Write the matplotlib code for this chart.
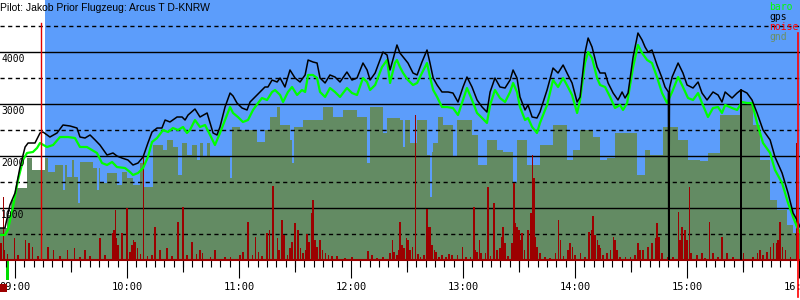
import matplotlib
matplotlib.use("Agg")
import matplotlib.pyplot as plt
import matplotlib.transforms as mtransforms
from matplotlib.patches import Rectangle
from matplotlib.ticker import MultipleLocator, FuncFormatter

# all times are minutes after 09:00, altitudes in metres
gps_t = [-8.0, -5.4, -2.7, 0.0, 2.7, 5.4, 7.0, 10.7, 13.4, 15.0, 18.7, 22.5, 25.7, 29.5, 33.2,
         34.8, 37.5, 40.2, 42.9, 45.5, 49.3, 52.5, 54.6, 57.3, 60.5, 63.2, 65.9, 68.6, 71.2,
         73.4, 76.1, 78.7, 80.4, 83.0, 86.8, 89.5, 91.1, 92.7, 96.4, 99.1, 102.9, 106.1, 108.2,
         109.8, 112.5, 115.2, 116.8, 118.9, 121.6, 124.3, 125.9, 128.6, 131.2, 133.9, 135.5,
         137.7, 140.4, 142.0, 144.6, 147.3, 150.0, 152.7, 155.4, 157.0, 159.6, 161.8, 163.4,
         166.1, 168.7, 171.4, 174.1, 177.8, 180.5, 183.2, 186.4, 188.6, 190.2, 192.9, 197.1,
         199.3, 200.9, 204.6, 206.2, 207.9, 210.5, 213.2, 215.4, 218.0, 220.7, 222.3, 224.0,
         226.1, 228.7, 232.0, 234.6, 237.3, 240.0, 242.1, 244.8, 247.5, 250.2, 252.8, 254.5,
         257.1, 259.8, 262.5, 265.2, 266.8, 268.9, 270.5, 273.2, 274.8, 277.0, 279.6, 281.2,
         285.0, 288.2, 290.9, 293.6, 296.2, 298.4, 301.1, 302.7, 305.3, 307.0, 309.1, 311.8,
         313.4, 316.1, 317.7, 320.4, 323.0, 325.2, 326.8, 328.4, 331.1, 333.7, 335.9, 337.5,
         339.1, 341.2, 343.9, 346.6, 348.2, 350.0, 350.2, 350.6, 352.0, 355.2, 357.8, 360.0,
         363.2, 365.9, 368.0, 370.7, 373.9, 376.6, 378.7, 380.4, 384.1, 386.8, 388.85, 388.9,
         388.95, 392.1, 394.8, 397.5, 400.7, 404.5, 407.1, 410.9, 414.1, 416.8, 418.9, 420.5]
gps_alt = [615, 615, 1058, 1288, 1788, 2173, 2250, 2250, 2442, 2461, 2365, 2442, 2596, 2577, 2538,
           2365, 2346, 2404, 2308, 2211, 2019, 2058, 2000, 1961, 1923, 1827, 1865, 1981, 2250,
           2461, 2538, 2538, 2692, 2654, 2750, 2750, 2692, 2788, 2904, 2750, 2827, 2442, 2404,
           2558, 2942, 3211, 3154, 3019, 2923, 2885, 3038, 3135, 3231, 3327, 3327,
           3461, 3423, 3500, 3327, 3654, 3500, 3423, 3558, 3846, 3808, 3788, 3500,
           3404, 3558, 3519, 3423, 3615, 3461, 3500, 3788, 3654, 3461, 3596, 4000,
           3942, 3654, 4135, 3981, 3904, 3788, 3596, 3558, 3808, 4038, 3788, 3500,
           3365, 3231, 3231, 3211, 3038, 3327, 3519, 3327, 3077, 2942, 2846, 3231,
           3500, 3327, 3308, 3461, 3654, 3500, 3135, 2885, 2981, 2750, 2731, 2846,
           3269, 3692, 3596, 3750, 3558, 3404, 3038, 3135, 3981, 4269, 4096, 3711,
           3596, 3596, 3404, 3211, 3077, 3231, 3115, 3211, 3904, 4365, 4231, 4096,
           4000, 4038, 3750, 3500, 3327, 3231, 0, 3308, 3519, 3788, 3596, 3365,
           3308, 3423, 3211, 3077, 3231, 3173, 3038, 3231, 3115, 3211, 3269, 0,
           3269, 3211, 3077, 2827, 2500, 2308, 1981, 1673, 1288, 904, 769, 635]

baro_t = [-8.0, -5.4, -3.8, -1.1, 1.6, 4.3, 6.4, 9.6, 11.8, 13.4, 17.1, 20.4, 24.1, 28.4, 32.1,
          34.8, 38.5, 41.2, 43.9, 46.6, 49.3, 52.0, 54.6, 58.9, 61.6, 63.2, 65.9, 68.6, 71.2,
          73.4, 76.1, 79.3, 82.0, 84.6, 87.3, 90.0, 92.1, 93.7, 96.4, 99.1, 101.8, 104.5, 107.1,
          109.8, 112.5, 115.2, 116.8, 119.4, 122.1, 124.8, 127.5, 130.2, 132.3, 135.0, 137.7,
          139.3, 142.0, 143.6, 146.2, 148.4, 151.1, 153.7, 155.4, 157.0, 159.6, 161.8, 163.4,
          166.1, 168.7, 171.4, 174.1, 177.8, 180.5, 183.2, 186.4, 188.6, 190.2, 192.9, 196.6,
          199.3, 200.9, 203.5, 204.6, 206.2, 207.9, 210.5, 213.2, 215.4, 218.0, 220.7, 222.3,
          224.0, 226.1, 228.7, 231.4, 234.6, 237.3, 240.0, 242.1, 244.8, 247.5, 250.2, 252.8,
          254.5, 257.1, 259.8, 262.5, 265.2, 266.8, 268.9, 270.5, 273.2, 274.8, 277.0, 279.6,
          281.2, 285.0, 288.2, 290.9, 293.6, 296.2, 298.4, 301.1, 302.7, 305.3, 307.0, 309.1,
          311.8, 313.4, 316.1, 318.8, 321.4, 324.1, 325.7, 327.9, 331.1, 333.7, 335.9, 338.6,
          341.2, 343.9, 346.6, 349.3, 352.0, 355.2, 357.8, 360.5, 363.2, 365.9, 368.0, 371.2,
          373.9, 376.6, 378.7, 380.4, 384.1, 386.8, 389.5, 392.1, 394.8, 397.5, 400.7, 404.5,
          407.1, 410.9, 414.1, 416.8, 418.9, 420.5]
baro_alt = [481, 481, 577, 1019, 1538, 1923, 2058, 2077, 2154, 2250, 2173, 2211, 2365, 2365, 2346,
            2173, 2173, 2115, 2058, 1865, 1827, 1885, 1788, 1769, 1692, 1635, 1673, 1769, 1981,
            2269, 2346, 2500, 2461, 2538, 2500, 2558, 2442, 2500, 2692, 2558, 2596, 2404, 2211,
            2442, 2692, 2942, 2827, 2750, 2654, 2692, 2885, 3019, 3115, 3077, 3231,
            3269, 3173, 3038, 3231, 3327, 3173, 3269, 3231, 3558, 3558, 3500, 3231,
            3135, 3308, 3231, 3135, 3308, 3211, 3173, 3500, 3423, 3269, 3365, 3711,
            3846, 3404, 3788, 3846, 3711, 3596, 3461, 3365, 3404, 3596, 3788, 3519,
            3269, 3135, 2942, 2942, 2923, 2788, 3077, 3308, 3077, 2827, 2731, 2635,
            2981, 3269, 3115, 3038, 3231, 3404, 3231, 2942, 2692, 2731, 2558, 2442,
            2635, 2981, 3461, 3327, 3500, 3327, 3173, 2827, 3077, 3788, 4000, 3885,
            3500, 3365, 3327, 3135, 2923, 2981, 2885, 3019, 3711, 4135, 3981, 3846,
            3788, 3519, 3211, 3019, 3231, 3519, 3327, 3115, 3077, 3211, 3019, 2750,
            2923, 2942, 2827, 2981, 2923, 2885, 3038, 3019, 3019, 2635, 2250, 2058,
            1731, 1481, 1096, 827, 635, 538]

# terrain under the glider, held until the next sample
gnd_t = [-8.0, -4.3, -2.1, 0.0, 6.4, 9.1, 16.1, 17.7, 21.4, 25.7, 26.8, 27.9, 30.5, 31.6, 33.7,
         34.8, 41.8, 43.9, 45.0, 45.5, 49.3, 54.6, 57.3, 60.0, 63.2, 67.0, 68.6, 73.9, 79.3,
         81.4, 84.6, 87.3, 89.5, 92.1, 94.8, 97.5, 99.1, 100.7, 102.9, 104.5, 115.2, 116.2,
         120.5, 129.6, 133.9, 136.6, 140.4, 142.0, 147.3, 148.4, 149.5, 154.3, 165.0, 170.4,
         175.7, 183.2, 188.6, 190.2, 197.1, 199.3, 206.2, 207.9, 208.9, 211.6, 215.4, 220.7,
         222.3, 223.4, 224.0, 226.6, 229.3, 234.6, 236.8, 244.8, 248.0, 252.8, 258.2, 261.4,
         266.8, 268.9, 274.3, 281.2, 288.2, 295.7, 298.9, 302.7, 309.6, 313.4, 317.1, 321.4,
         333.2, 337.5, 340.2, 347.1, 355.2, 360.5, 367.0, 371.2, 377.7, 388.4, 395.3, 399.1,
         404.5, 408.2, 413.6, 416.8, 420.5]
gnd_alt = [615, 865, 1154, 1385, 1961, 1731, 1961, 1692, 1827, 1346, 1827, 1596, 1923, 1596, 1096,
           1885, 1769, 1346, 1769, 1481, 1673, 1442, 1692, 1577, 1442, 1865, 1404, 2211, 2115,
           2308, 2173, 1635, 2250, 2019, 2211, 1923, 2250, 1981, 2250, 1981, 1577, 2558,
           2500, 2269, 2500, 2750, 2942, 2596, 2308, 1865, 2558, 2692, 2942, 2750,
           2885, 2750, 1865, 2942, 2442, 2731, 2692, 2173, 2692, 2250, 2692, 2019,
           1212, 2077, 2250, 2750, 2596, 1981, 2692, 2404, 1827, 2308, 2115, 2077,
           1481, 2308, 1827, 2211, 2596, 1923, 2115, 2500, 2365, 1923, 1961, 2442,
           1635, 2115, 2019, 2558, 2308, 1923, 1900, 2058, 2788, 2981, 2596, 1923,
           1154, 962, 673, 519, 519]

noise_t = [-7.5, -6.4, -5.4, -3.8, -0.5, 1.6, 5.4, 7.5, 9.6, 12.3, 17.7, 20.4, 24.1, 27.9, 32.1,
           34.8, 37.5, 40.2, 45.5, 48.2, 52.0, 52.5, 53.0, 53.6, 54.1, 55.2, 57.3, 60.0, 61.6,
           62.7, 63.7, 64.3, 65.4, 67.0, 68.6, 71.2, 73.4, 75.0, 77.7, 81.4, 84.1, 87.3, 90.0,
           92.1, 94.8, 97.0, 99.1, 100.2, 104.5, 107.1, 112.5, 115.2, 120.5, 122.1, 124.8, 127.0,
           128.6, 130.2, 132.3, 135.0, 136.1, 138.2, 140.4, 141.4, 143.0, 144.1, 146.2, 147.3,
           148.4, 149.5, 150.0, 151.1, 151.6, 152.7, 154.3, 155.4, 156.4, 157.5, 158.6, 159.6,
           160.7, 161.8, 163.4, 164.5, 166.1, 167.7, 169.8, 172.5, 176.8, 180.5, 189.1, 191.2,
           193.9, 197.1, 200.9, 202.0, 203.0, 204.6, 205.7, 206.2, 207.3, 208.4, 209.5, 210.5,
           211.6, 212.7, 214.3, 215.9, 217.0, 219.1, 220.7, 221.2, 222.3, 222.8, 223.4, 224.5,
           225.5, 227.1, 228.7, 230.9, 232.5, 234.1, 236.8, 239.5, 241.6, 243.8, 245.9, 246.4,
           247.5, 248.6, 249.6, 251.8, 253.4, 254.5, 256.6, 258.2, 259.8, 260.9, 261.4, 262.5,
           264.1, 266.2, 267.3, 267.9, 268.9, 269.5, 270.0, 270.5, 271.6, 272.7, 274.8, 276.4,
           277.0, 278.0, 278.6, 279.6, 281.2, 283.9, 286.6, 289.3, 290.9, 292.0, 293.6, 296.2,
           297.3, 298.4, 300.0, 302.7, 305.3, 307.5, 308.6, 309.6, 310.7, 311.8, 312.8, 313.4,
           315.0, 317.1, 318.8, 320.4, 321.4, 322.5, 324.1, 326.8, 329.5, 332.1, 333.7, 334.8,
           336.4, 339.1, 341.2, 342.9, 343.9, 345.0, 346.6, 349.8, 352.5, 355.2, 356.2, 357.3,
           358.9, 360.0, 361.1, 362.1, 365.3, 368.0, 369.6, 371.8, 373.9, 376.6, 378.7, 381.4,
           384.6, 390.0, 395.3, 397.5, 399.1, 400.7, 402.8, 404.5, 406.1, 407.7, 408.7, 409.8,
           410.9, 412.5, 415.2, 418.4, 419.4]
noise_v = [327, 1212, 192, 115, 423, 96, 385, 327, 250, 77, 250, 192, 77, 192, 231,
           58, 192, 77, 423, 96, 385, 519, 577, 962, 423, 288, 519, 1000, 154,
           288, 385, 346, 231, 115, 1981, 77, 96, 635, 192, 231, 77, 731, 1019,
           96, 346, 115, 192, 135, 58, 192, 58, 58, 96, 154, 731, 96,
           442, 154, 77, 519, 577, 1423, 423, 192, 769, 481, 96, 231,
           346, 269, 712, 385, 577, 231, 135, 192, 500, 346, 904, 1154,
           385, 250, 385, 192, 135, 96, 77, 77, 38, 58, 173, 96,
           38, 58, 135, 385, 154, 96, 192, 731, 288, 231, 423, 385,
           192, 250, 2788, 115, 58, 96, 981, 635, 635, 481, 288, 192,
           154, 58, 96, 58, 115, 96, 96, 250, 58, 58, 1019, 192,
           154, 385, 135, 135, 1404, 77, 1096, 192, 231, 442, 635, 327,
           77, 327, 1481, 712, 635, 481, 577, 385, 519, 192, 577, 904,
           2019, 1577, 442, 250, 135, 58, 38, 135, 769, 385, 77, 192,
           327, 250, 96, 135, 58, 538, 577, 846, 481, 385, 288, 231,
           96, 135, 192, 442, 385, 192, 58, 58, 58, 96, 327, 192,
           192, 250, 327, 423, 712, 442, 135, 58, 58, 923, 385, 635,
           577, 385, 1404, 135, 96, 135, 38, 731, 135, 58, 442, 135,
           58, 135, 58, 135, 192, 96, 154, 250, 327, 327, 385, 731,
           250, 192, 58, 2250, 519]

sky_from = 16.1      # start of the blue background
start_t = 13.9       # red start marker
finish_t = 419.4     # red finish marker
takeoff_t = -4.7
motor_t = (-8.0, -4.3)
grid_solid = [1000, 2000, 3000, 4000]
grid_dashed = [500, 1500, 2500, 3500, 4500]
title = "Pilot: Jakob Prior Flugzeug: Arcus T D-KNRW"
legend = [("baro", "#00ff00"), ("gps", "#000000"), ("noise", "#ff0000"), ("gnd", "#6b8f63")]

SKY = "#5c9dfb"
GND = "#638b63"
NOISE = "#9c0000"
MONO = "DejaVu Sans Mono"

fig = plt.figure(figsize=(8, 3), dpi=100)
ax = fig.add_axes([0, 40 / 300, 1, 260 / 300])
ax.set_xlim(-8.04, 420.5)
ax.set_ylim(0, 5000)

ax.axvspan(sky_from, gps_t[-1], color=SKY, lw=0, zorder=0)
ax.fill_between(gnd_t, gnd_alt, step="post", color=GND, lw=0, zorder=1)
for lvl in grid_solid:
    ax.axhline(lvl, color="black", lw=1.0, zorder=2)
for lvl in grid_dashed:
    ax.axhline(lvl, color="black", lw=1.0, dashes=(3, 2.5), zorder=2)
ax.bar(noise_t, noise_v, width=0.6, color=NOISE, lw=0, zorder=3)
ax.plot(baro_t, baro_alt, color="#00ff00", lw=1.6, zorder=4)
ax.plot(gps_t, gps_alt, color="black", lw=1.1, zorder=5)

ax.axvline(start_t, ymin=0, ymax=0.912, color="#e00000", lw=1.0, zorder=6)
ax.axvline(finish_t, ymin=-0.142, ymax=0.873, color="#ff0000", lw=1.2, zorder=6, clip_on=False)

trans = mtransforms.blended_transform_factory(ax.transData, ax.transAxes)
ax.add_patch(Rectangle((takeoff_t, -20 / 260), 1.4, 19 / 260, transform=trans,
                       color="#00dd00", lw=0, clip_on=False))
ax.add_patch(Rectangle((motor_t[0], -32 / 260), motor_t[1] - motor_t[0], 8 / 260,
                       transform=trans, color=NOISE, lw=0, clip_on=False, zorder=5))

for lvl in grid_solid:
    ax.annotate(str(lvl), xy=(0, lvl), xycoords=("axes fraction", "data"),
                xytext=(1, -2), textcoords="offset pixels", ha="left", va="top",
                fontsize=7, family=MONO, zorder=7)

for s in ("top", "left", "right"):
    ax.spines[s].set_visible(False)
ax.spines["bottom"].set_color(NOISE)
ax.spines["bottom"].set_linewidth(1.5)
ax.set_yticks([])

ax.xaxis.set_major_locator(MultipleLocator(60))
ax.xaxis.set_minor_locator(MultipleLocator(5))
ax.xaxis.set_major_formatter(FuncFormatter(lambda v, p: "%02d:00" % (9 + int(round(v)) // 60)))
ax.tick_params(axis="x", which="major", length=13, width=0.8, pad=3, labelsize=7.5)
ax.tick_params(axis="x", which="minor", length=5, width=0.8)
for lab in ax.get_xticklabels():
    lab.set_family(MONO)

half = ax.secondary_xaxis("bottom")
half.set_xticks([30 + 60 * k for k in range(7)])
half.tick_params(length=8.5, width=0.8, labelbottom=False)
half.spines["bottom"].set_visible(False)

fig.text(0.0, 1 - 8 / 300, title, fontsize=7.5, family="Liberation Sans", va="center")
for i, (name, col) in enumerate(legend):
    fig.text(769 / 800, 1 - (6.5 + 10 * i) / 300, name, color=col, fontsize=7,
             family=MONO, va="center")

fig.savefig("out.png", dpi=100)
